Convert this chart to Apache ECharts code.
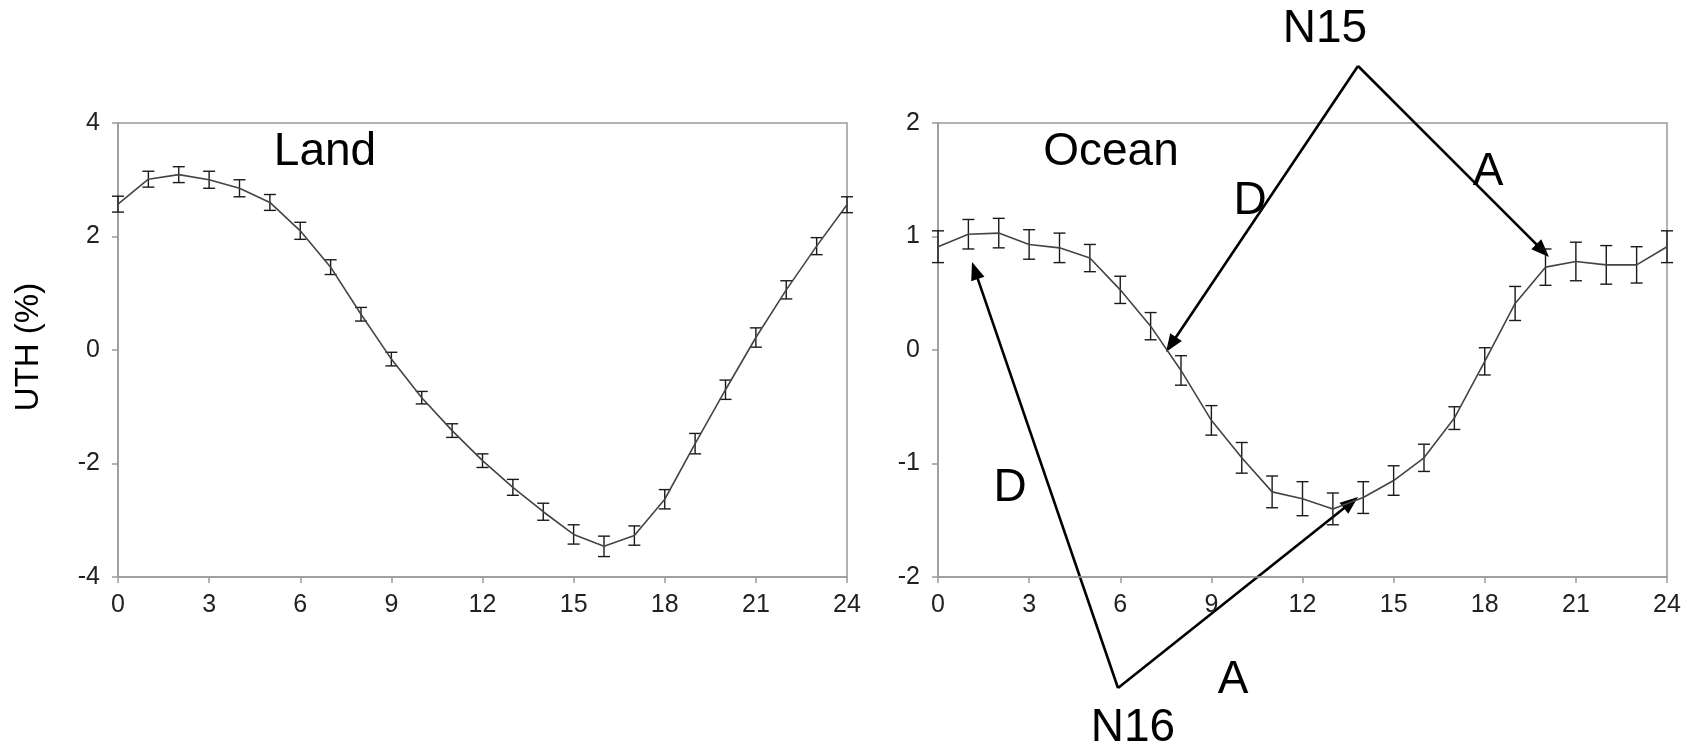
<!DOCTYPE html>
<html>
<head>
<meta charset="utf-8">
<script src="https://cdn.jsdelivr.net/npm/echarts@6/dist/echarts.min.js"></script>
<style>
html,body{margin:0;padding:0;background:#fff;}
#chart{width:1700px;height:751px;}
</style>
</head>
<body>
<div id="chart"></div>
<script>
// ---- data ----
const hours = [0,1,2,3,4,5,6,7,8,9,10,11,12,13,14,15,16,17,18,19,20,21,22,23,24];
const landValues = [2.57, 3.01, 3.09, 3.00, 2.85, 2.60, 2.10, 1.46, 0.63, -0.16, -0.84, -1.42, -1.95, -2.42, -2.85, -3.25, -3.46, -3.27, -2.63, -1.65, -0.70, 0.22, 1.06, 1.83, 2.56];
const landErr = [0.14, 0.14, 0.14, 0.15, 0.15, 0.14, 0.15, 0.13, 0.12, 0.12, 0.11, 0.12, 0.12, 0.14, 0.15, 0.17, 0.18, 0.17, 0.17, 0.18, 0.17, 0.17, 0.16, 0.15, 0.14];
const oceanValues = [0.91, 1.02, 1.03, 0.93, 0.90, 0.81, 0.53, 0.21, -0.18, -0.62, -0.95, -1.25, -1.31, -1.40, -1.30, -1.15, -0.95, -0.60, -0.10, 0.41, 0.73, 0.78, 0.75, 0.75, 0.91];
const oceanErr = [0.14, 0.13, 0.13, 0.13, 0.13, 0.12, 0.12, 0.12, 0.13, 0.13, 0.135, 0.14, 0.15, 0.14, 0.14, 0.13, 0.12, 0.10, 0.12, 0.15, 0.16, 0.17, 0.17, 0.16, 0.14];
const xTicks = {min: 0, max: 24, interval: 3};
const landTicks = {min: -4, max: 4, interval: 2};
const oceanTicks = {min: -2, max: 2, interval: 1};
const panelTitles = ['Land', 'Ocean'];
const yAxisTitle = 'UTH (%)';

// ---- build ----
const FONT = 'Liberation Sans, Arial, Helvetica, sans-serif';
const lineData = (vals) => hours.map((h, i) => [h, vals[i]]);
const errData = (vals, errs) => hours.map((h, i) => [h, vals[i] - errs[i], vals[i] + errs[i]]);

function errRender(params, api) {
  const x = api.value(0);
  const lo = api.coord([x, api.value(1)]);
  const hi = api.coord([x, api.value(2)]);
  const cap = 6;
  const st = {stroke: '#1a1a1a', lineWidth: 1.4};
  return {
    type: 'group',
    children: [
      {type: 'line', shape: {x1: lo[0], y1: lo[1], x2: hi[0], y2: hi[1]}, style: st},
      {type: 'line', shape: {x1: lo[0] - cap, y1: lo[1], x2: lo[0] + cap, y2: lo[1]}, style: st},
      {type: 'line', shape: {x1: hi[0] - cap, y1: hi[1], x2: hi[0] + cap, y2: hi[1]}, style: st}
    ]
  };
}

function xAxisCfg(idx) {
  return {
    type: 'value', gridIndex: idx, min: xTicks.min, max: xTicks.max, interval: xTicks.interval,
    axisLine: {show: true, onZero: false, lineStyle: {color: '#9a9a9a', width: 1.5}},
    axisTick: {show: true, length: 6, lineStyle: {color: '#9a9a9a', width: 1.5}},
    axisLabel: {fontFamily: FONT, fontSize: 25, color: '#222', margin: 16},
    splitLine: {show: false}
  };
}
function yAxisCfg(idx, t) {
  return {
    type: 'value', gridIndex: idx, min: t.min, max: t.max, interval: t.interval,
    axisLine: {show: true, onZero: false, lineStyle: {color: '#9a9a9a', width: 1.5}},
    axisTick: {show: true, length: 6, lineStyle: {color: '#9a9a9a', width: 1.5}},
    axisLabel: {fontFamily: FONT, fontSize: 25, color: '#222', margin: 18},
    splitLine: {show: false}
  };
}

const chart = echarts.init(document.getElementById('chart'), null, {renderer: 'canvas'});

function arrow(x1, y1, x2, y2) {
  const dx = x2 - x1, dy = y2 - y1;
  const len = Math.sqrt(dx * dx + dy * dy);
  const ux = dx / len, uy = dy / len;
  const L = 18, W = 7;
  const bx = x2 - ux * L, by = y2 - uy * L;
  return [
    {type: 'line', shape: {x1: x1, y1: y1, x2: bx + ux * 2, y2: by + uy * 2}, style: {stroke: '#000', lineWidth: 2.6}},
    {type: 'polygon', shape: {points: [[x2, y2], [bx - uy * W, by + ux * W], [bx + uy * W, by - ux * W]]}, style: {fill: '#000'}}
  ];
}
function label(txt, x, y, size) {
  return {type: 'text', x: x, y: y, style: {text: txt, fontFamily: FONT, fontSize: size || 46, fill: '#000', align: 'center', verticalAlign: 'middle'}};
}

const graphics = [
  label(panelTitles[0], 325, 152),
  label(panelTitles[1], 1111, 152),
  label('N15', 1325, 29),
  label('D', 1250, 201),
  label('A', 1488, 172),
  label('D', 1010, 488),
  label('A', 1233, 680),
  label('N16', 1133, 728),
  {type: 'text', x: 29, y: 347, rotation: Math.PI / 2,
   style: {text: yAxisTitle, fontFamily: FONT, fontSize: 33, fill: '#000', align: 'center', verticalAlign: 'middle'}}
].concat(
  arrow(1358, 66, 1166, 352),
  arrow(1358, 66, 1549, 257),
  arrow(1118, 688, 972, 262),
  arrow(1118, 688, 1358, 497)
);

chart.setOption({
  animation: false,
  backgroundColor: '#fff',
  grid: [
    {left: 118, top: 123, width: 729, height: 454, show: true, borderColor: '#9a9a9a', borderWidth: 1.5, backgroundColor: 'transparent'},
    {left: 938, top: 123, width: 729, height: 454, show: true, borderColor: '#9a9a9a', borderWidth: 1.5, backgroundColor: 'transparent'}
  ],
  xAxis: [xAxisCfg(0), xAxisCfg(1)],
  yAxis: [yAxisCfg(0, landTicks), yAxisCfg(1, oceanTicks)],
  series: [
    {type: 'line', xAxisIndex: 0, yAxisIndex: 0, data: lineData(landValues), symbol: 'none', lineStyle: {color: '#444', width: 1.6}},
    {type: 'custom', xAxisIndex: 0, yAxisIndex: 0, data: errData(landValues, landErr), renderItem: errRender, encode: {x: 0, y: [1, 2]}, clip: false},
    {type: 'line', xAxisIndex: 1, yAxisIndex: 1, data: lineData(oceanValues), symbol: 'none', lineStyle: {color: '#444', width: 1.6}},
    {type: 'custom', xAxisIndex: 1, yAxisIndex: 1, data: errData(oceanValues, oceanErr), renderItem: errRender, encode: {x: 0, y: [1, 2]}, clip: false}
  ],
  graphic: graphics
});
</script>
</body>
</html>
